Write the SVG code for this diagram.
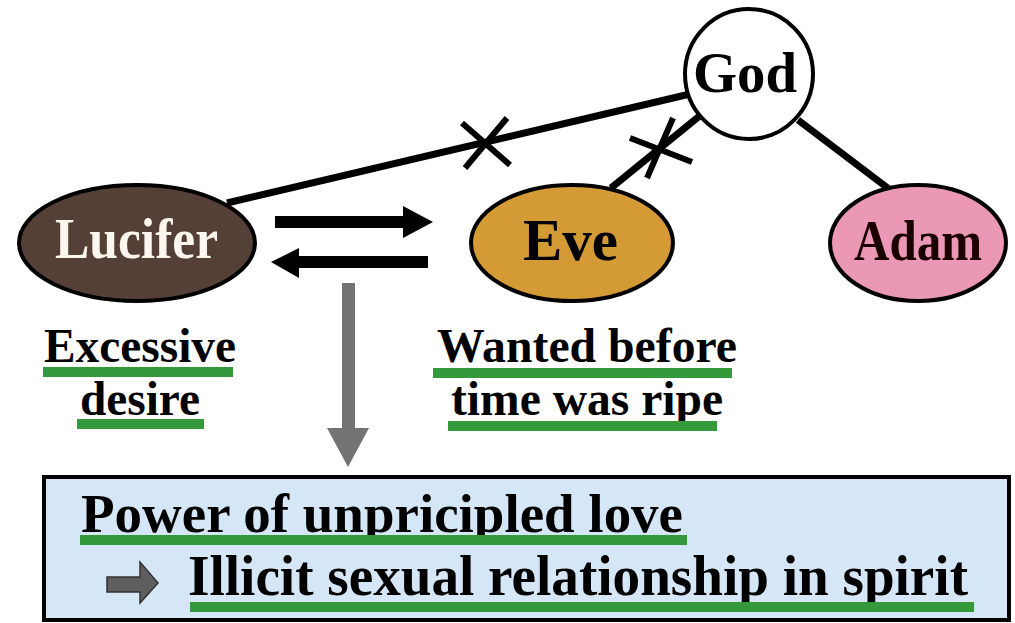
<svg xmlns="http://www.w3.org/2000/svg" width="1015" height="623" viewBox="0 0 1015 623">
<defs>
<style>
.t{font-family:"Liberation Serif","Times New Roman",serif;font-weight:bold;fill:#000}
.node{stroke:#000;stroke-width:4}
.con{stroke:#000;stroke-width:7;fill:none}
.x{stroke:#000;stroke-width:6;fill:none}
.ul{fill:#33993a}
</style>
</defs>
<rect x="0" y="0" width="1015" height="623" fill="#ffffff"/>
<g id="connectors">
<line class="con" x1="227" y1="203" x2="690" y2="94"/>
<line class="con" x1="611" y1="188" x2="702" y2="114"/>
<line class="con" x1="798" y1="120" x2="889" y2="189"/>
<line class="x" x1="462" y1="123" x2="510" y2="165"/>
<line class="x" x1="465" y1="168" x2="507" y2="118"/>
<line class="x" x1="630" y1="138" x2="692" y2="162"/>
<line class="x" x1="647" y1="178" x2="673" y2="118"/>
<rect x="275" y="216" width="131" height="12" fill="#000"/>
<polygon points="403,206 433,222 403,238" fill="#000"/>
<rect x="296" y="256" width="132" height="12" fill="#000"/>
<polygon points="299,248 271,262 299,278" fill="#000"/>
<rect x="342" y="283" width="13" height="148" fill="#737373"/>
<polygon points="327,428 369,428 348,467" fill="#737373"/>
</g>
<g id="god">
<ellipse class="node" cx="749" cy="74" rx="64" ry="65" fill="#ffffff"/>
<text class="t" x="693" y="92" font-size="58" textLength="104" lengthAdjust="spacingAndGlyphs">God</text>
</g>
<g id="lucifer">
<ellipse class="node" cx="137" cy="243" rx="118" ry="58" fill="#544036"/>
<text class="t" x="55" y="258" font-size="56" textLength="163" lengthAdjust="spacingAndGlyphs" style="fill:#fbf6ee">Lucifer</text>
</g>
<g id="eve">
<ellipse class="node" cx="572" cy="243" rx="101" ry="58" fill="#d39a35"/>
<text class="t" x="523" y="260" font-size="60" textLength="95" lengthAdjust="spacingAndGlyphs">Eve</text>
</g>
<g id="adam">
<ellipse class="node" cx="918" cy="243" rx="88" ry="58" fill="#eb98b6"/>
<text class="t" x="918" y="260" font-size="58" text-anchor="middle" textLength="128" lengthAdjust="spacingAndGlyphs" style="fill:#1a0000">Adam</text>
</g>
<g id="lucifer-note">
<text class="t" x="44" y="362" font-size="48" textLength="192" lengthAdjust="spacingAndGlyphs">Excessive</text>
<text class="t" x="80" y="415" font-size="48" textLength="120" lengthAdjust="spacingAndGlyphs">desire</text>
<rect class="ul" x="43" y="367" width="190" height="10"/>
<rect class="ul" x="77" y="419" width="127" height="10"/>
</g>
<g id="eve-note">
<text class="t" x="437" y="362" font-size="48" textLength="300" lengthAdjust="spacingAndGlyphs">Wanted before</text>
<text class="t" x="451" y="415" font-size="48" textLength="272" lengthAdjust="spacingAndGlyphs">time was ripe</text>
<rect class="ul" x="433" y="368" width="299" height="10"/>
<rect class="ul" x="448" y="421" width="269" height="10"/>
</g>
<g id="result">
<rect x="44" y="477" width="965" height="143" fill="#d5e7f6" stroke="#000" stroke-width="4"/>
<text class="t" x="81" y="532" font-size="55" textLength="602" lengthAdjust="spacingAndGlyphs">Power of unpricipled love</text>
<rect class="ul" x="80" y="535" width="607" height="10"/>
<polygon points="107,577 140,577 140,562 158,583 140,603 140,592 107,592" fill="#5e5e5e" stroke="#333" stroke-width="1.5"/>
<text class="t" x="188" y="595" font-size="56" textLength="780" lengthAdjust="spacingAndGlyphs">Illicit sexual relationship in spirit</text>
<rect class="ul" x="190" y="602" width="784" height="10"/>
</g>
</svg>
